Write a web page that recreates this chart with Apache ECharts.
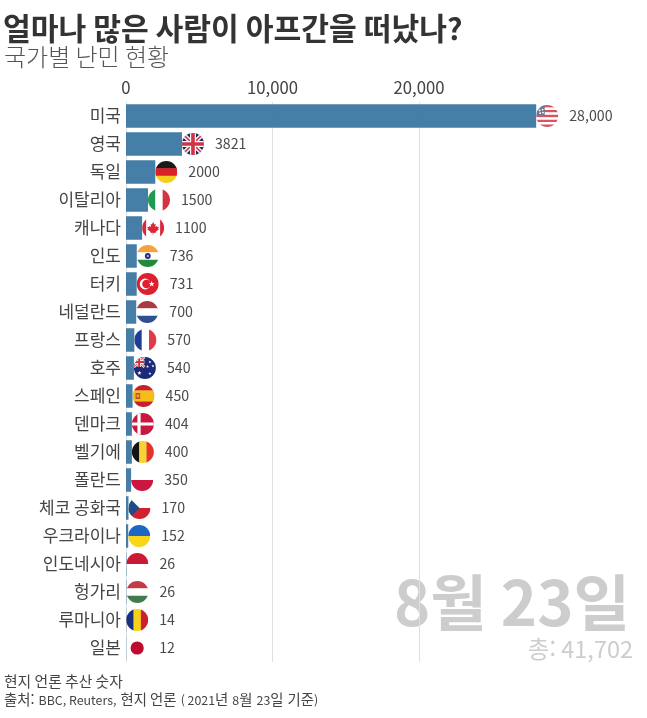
<!DOCTYPE html>
<html lang="ko">
<head>
<meta charset="utf-8">
<style>html,body{margin:0;padding:0;background:#fff}#chart{width:647px;height:718px}</style>
<script src="https://cdn.jsdelivr.net/npm/echarts@6/dist/echarts.min.js"></script>
</head>
<body>
<div id="chart"></div>
<script>
// Refugees taken in per country
const countries = ['미국','영국','독일','이탈리아','캐나다','인도','터키','네덜란드','프랑스','호주','스페인','덴마크','벨기에','폴란드','체코 공화국','우크라이나','인도네시아','헝가리','루마니아','일본'];
const refugees = [28000,3821,2000,1500,1100,736,731,700,570,540,450,404,400,350,170,152,26,26,14,12];
const valueLabels = ['28,000','3821','2000','1500','1100','736','731','700','570','540','450','404','400','350','170','152','26','26','14','12'];
const flagCodes = ['us','gb','de','it','ca','in','tr','nl','fr','au','es','dk','be','pl','cz','ua','id','hu','ro','jp'];
const axisTicks = [0,10000,20000];

const FONT = '"Noto Sans CJK KR","Noto Sans",sans-serif';
const R = 11;

const rect = (x, y, w, h, fill) => ({type:'rect', shape:{x, y, width:w, height:h}, style:{fill}});
const poly = (points, fill) => ({type:'polygon', shape:{points}, style:{fill}});
const disc = (cx, cy, r, fill) => ({type:'circle', shape:{cx, cy, r}, style:{fill}});
const hBands = colors => colors.map((c, i) => rect(-R, -R + i * 2 * R / colors.length, 2 * R, 2 * R / colors.length + 0.3, c));
const vBands = colors => colors.map((c, i) => rect(-R + i * 2 * R / colors.length, -R, 2 * R / colors.length + 0.3, 2 * R, c));
const bar = (x1, y1, x2, y2, w, fill) => {
  const dx = x2 - x1, dy = y2 - y1, n = Math.hypot(dx, dy), ox = -dy / n * w / 2, oy = dx / n * w / 2;
  return poly([[x1 + ox, y1 + oy],[x2 + ox, y2 + oy],[x2 - ox, y2 - oy],[x1 - ox, y1 - oy]], fill);
};
const star = (cx, cy, r, fill) => {
  const pts = [];
  for (let i = 0; i < 10; i++) {
    const a = -Math.PI / 2 + i * Math.PI / 5, q = i % 2 ? r * 0.42 : r;
    pts.push([cx + Math.cos(a) * q, cy + Math.sin(a) * q]);
  }
  return poly(pts, fill);
};
const unionJack = (x0, y0, x1, y1, k) => [
  rect(x0, y0, x1 - x0, y1 - y0, '#1d2a63'),
  bar(x0, y0, x1, y1, 4.4 * k, '#fff'), bar(x0, y1, x1, y0, 4.4 * k, '#fff'),
  bar(x0, y0, x1, y1, 1.6 * k, '#cf3347'), bar(x0, y1, x1, y0, 1.6 * k, '#cf3347'),
  rect((x0 + x1) / 2 - 3 * k, y0, 6 * k, y1 - y0, '#fff'), rect(x0, (y0 + y1) / 2 - 3 * k, x1 - x0, 6 * k, '#fff'),
  rect((x0 + x1) / 2 - 1.8 * k, y0, 3.6 * k, y1 - y0, '#cf3347'), rect(x0, (y0 + y1) / 2 - 1.8 * k, x1 - x0, 3.6 * k, '#cf3347')
];

// Each flag is a list of shapes in a local frame centred on the round badge
const flagShapes = {
  us: () => [
    ...hBands(['#d9545f','#fff','#d9545f','#fff','#d9545f','#fff','#d9545f','#fff','#d9545f']),
    rect(-R, -R, 8.5, 10, '#6b7896'),
    disc(-7.6, -5.6, 0.9, '#fff'), disc(-4.6, -6.4, 0.9, '#fff'), disc(-7, -2.8, 0.9, '#fff'), disc(-4.2, -3.4, 0.9, '#fff')
  ],
  gb: () => unionJack(-R, -R, R, R, 1),
  de: () => hBands(['#1a1a1a','#dd1f26','#f7ce1f']),
  it: () => vBands(['#1f9a55','#fff','#d6323f']),
  ca: () => [
    rect(-R, -R, 2 * R, 2 * R, '#fff'), rect(-R, -R, 4, 2 * R, '#d8283a'), rect(R - 4, -R, 4, 2 * R, '#d8283a'),
    poly([[0,-6],[1.3,-3.4],[2.6,-4],[2.1,-0.9],[3.6,-2.1],[4.2,-0.9],[5.8,-1.2],[5.1,0.8],[5.8,1.3],[2.4,3.9],[2.7,5],[0.3,4.7],[0.3,6.8],[-0.3,6.8],[-0.3,4.7],[-2.7,5],[-2.4,3.9],[-5.8,1.3],[-5.1,0.8],[-5.8,-1.2],[-4.2,-0.9],[-3.6,-2.1],[-2.1,-0.9],[-2.6,-4],[-1.3,-3.4]], '#d8283a')
  ],
  in: () => [
    ...hBands(['#f5a13c','#fff','#218a3d']),
    disc(0, 0, 2.9, '#27277e'), disc(0, 0, 1.2, '#9c9cd8')
  ],
  tr: () => [
    rect(-R, -R, 2 * R, 2 * R, '#df1f2e'),
    disc(-2.6, 0, 5.4, '#fff'), disc(-1.2, 0, 4.3, '#df1f2e'),
    star(4, 0, 3, '#fff')
  ],
  nl: () => hBands(['#ac3a46','#fff','#2f4f92']),
  fr: () => vBands(['#1f3d96','#fff','#e2394a']),
  au: () => [
    rect(-R, -R, 2 * R, 2 * R, '#1d2a7a'),
    ...unionJack(-R, -R, -0.5, -1, 0.55),
    star(-5.5, 5, 2.2, '#fff'), star(5, -6, 1.5, '#fff'), star(8, -2, 1.5, '#fff'), star(2.6, -1.5, 1.5, '#fff'), star(5, 5.5, 1.5, '#fff')
  ],
  es: () => [
    ...hBands(['#c81f2d','#f6bd1a','#f6bd1a','#c81f2d']),
    rect(-8, -3, 4.6, 6, '#b5522a'), rect(-7, -1.6, 2.6, 2.8, '#e8a23a')
  ],
  dk: () => [
    rect(-R, -R, 2 * R, 2 * R, '#c9173f'),
    rect(-5.5, -R, 3.2, 2 * R, '#fff'), rect(-R, -1.6, 2 * R, 3.2, '#fff')
  ],
  be: () => vBands(['#141414','#f7d234','#e5332a']),
  pl: () => hBands(['#fff','#c9173f']),
  cz: () => [
    ...hBands(['#fff','#d2202f']),
    poly([[-R,-R],[0,0],[-R,R]], '#1f4b86')
  ],
  ua: () => hBands(['#1f66c4','#f9d616']),
  id: () => hBands(['#cc1a35','#fff']),
  hu: () => hBands(['#c43a45','#fff','#3f7d50']),
  ro: () => vBands(['#1b2f80','#f9d116','#cb2030']),
  jp: () => [disc(0, 0, 6.6, '#bc0a30')]
};

const chart = echarts.init(document.getElementById('chart'), null, {renderer:'canvas'});

const renderFlag = (params, api) => {
  const i = api.value(1);
  const end = api.coord([api.value(0), i]);
  return {
    type: 'group',
    x: end[0] + R,
    y: end[1],
    clipPath: {type:'circle', shape:{cx:0, cy:0, r:R}},
    children: flagShapes[flagCodes[i]]()
  };
};

chart.setOption({
  animation: false,
  backgroundColor: '#fff',
  textStyle: {fontFamily: FONT},
  title: [
    {text:'얼마나 많은 사람이 아프간을 떠났나?', left:-2, top:8, textStyle:{fontFamily:FONT, fontSize:30.2, fontWeight:700, color:'#333'}},
    {text:'국가별 난민 현황', left:-1, top:40, textStyle:{fontFamily:FONT, fontSize:24, fontWeight:300, color:'#555'}},
    {text:'현지 언론 추산 숫자', left:-1, top:669, textStyle:{fontFamily:FONT, fontSize:14.8, fontWeight:400, color:'#444'}},
    {
      text:'{k|출처:} {l|BBC, Reuters,} {k|현지 언론} {l|( 2021}{k|년} {l|8}{k|월} {l|23}{k|일} {k|기준}{l|)}',
      left:-1, top:686,
      textStyle:{
        fontWeight:400,
        rich:{
          k:{fontFamily:FONT, fontSize:14.4, fontWeight:400, color:'#444'},
          l:{fontFamily:FONT, fontSize:12.4, fontWeight:400, color:'#444'}
        }
      }
    }
  ],
  graphic: [
    {type:'text', z:-1, right:17, top:572, style:{text:'8월 23일', font:'700 61.5px '+FONT, fill:'#cdcdcd'}},
    {type:'text', z:-1, right:14, top:637, style:{text:'총: 41,702', font:'400 23.5px '+FONT, fill:'#cdcdcd'}}
  ],
  grid: {left:126, top:102, width:410.2, height:560, containLabel:false},
  xAxis: {
    type:'value', position:'top', min:0, max:28000, interval:10000,
    axisLine:{show:false}, axisTick:{show:false},
    axisLabel:{
      margin:6, fontFamily:FONT, fontSize:16.7, color:'#444',
      customValues: axisTicks,
      formatter: v => v.toLocaleString('en-US')
    },
    splitLine:{show:true, showMaxLine:false, lineStyle:{color:'#dfdfdf', width:1}}
  },
  yAxis: {
    type:'category', inverse:true, data:countries,
    axisLine:{show:false}, axisTick:{show:false},
    axisLabel:{margin:5, fontFamily:FONT, fontSize:17, color:'#444'}
  },
  series: [
    {
      type:'bar', data:refugees, barWidth:23.5,
      itemStyle:{color:'#3f7ba5', opacity:0.97},
      label:{
        show:true, position:'right', distance:33,
        fontFamily:FONT, fontSize:14.2, color:'#444',
        formatter: p => valueLabels[p.dataIndex]
      }
    },
    {
      type:'custom', renderItem:renderFlag, z:4, silent:true,
      encode:{x:0, y:1},
      data: refugees.map((v, i) => [v, i])
    }
  ]
});
</script>
</body>
</html>
